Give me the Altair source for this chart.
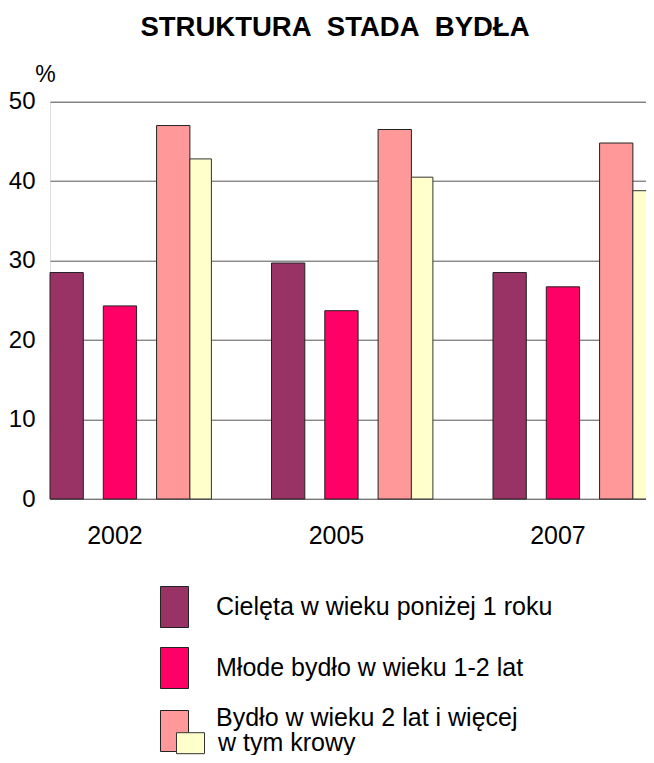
import altair as alt
import pandas as pd

# ---- data ----
years = ["2002", "2005", "2007"]
series = [
    "Cielęta w wieku poniżej 1 roku",
    "Młode bydło w wieku 1-2 lat",
    "Bydło w wieku 2 lat i więcej",
]
cows_label = "w tym krowy"
calves = [28.5, 29.7, 28.5]
young = [24.3, 23.7, 26.7]
adult = [47.0, 46.5, 44.8]
cows = [42.8, 40.5, 38.8]
y_ticks = [0, 10, 20, 30, 40, 50]

colors = ["#993366", "#FF0066", "#FF9999"]
cows_color = "#FFFFCC"
FONT = "Liberation Sans"

main_df = pd.DataFrame({
    "year": years * 3,
    "series": [s for s in series for _ in years],
    "value": calves + young + adult,
})
cows_df = pd.DataFrame({"year": years, "series": cows_label, "value": cows})

x_enc = alt.X(
    "year:N",
    sort=years,
    scale=alt.Scale(paddingInner=0.3684, paddingOuter=0.0296, align=0),
    axis=alt.Axis(
        title=None, labelAngle=0, ticks=False, grid=False, domain=True,
        domainColor="#777", labelFontSize=25, labelFont=FONT, labelColor="black",
        labelPadding=24, labelOffset=-5,
    ),
)
y_enc = alt.Y(
    "value:Q",
    scale=alt.Scale(domain=[0, 50], nice=False),
    axis=alt.Axis(
        values=y_ticks, title="%", titleAngle=0, titleX=-5, titleY=-20,
        titleAlign="center", titleBaseline="alphabetic", titleFontSize=23,
        titleFontWeight="normal", titleFont=FONT, titleColor="black",
        ticks=False, tickSize=0, domain=False, labelFontSize=24, labelFont=FONT,
        labelColor="black", labelPadding=15, gridColor="#555", gridOpacity=1,
    ),
)

tall_rect = "M-0.683,-1 L0.683,-1 L0.683,1 L-0.683,1 Z"
small_rect = "M-1,-0.75 L1,-0.75 L1,0.75 L-1,0.75 Z"

# third legend label sits above its symbol's centre, as in the reference
third_baseline = {"expr": f"datum.label == '{series[2]}' ? 'bottom' : 'middle'"}

main_layer = alt.Chart(main_df).mark_bar(stroke="#222", strokeWidth=1).encode(
    x=x_enc,
    y=y_enc,
    xOffset=alt.XOffset(
        "series:N", sort=series,
        scale=alt.Scale(domain=series, paddingInner=0.375, paddingOuter=0),
    ),
    fill=alt.Fill(
        "series:N", title=None, sort=series,
        scale=alt.Scale(domain=series, range=colors),
        legend=alt.Legend(
            orient="none", legendX=103.5, legendY=484.3, padding=0,
            symbolType=tall_rect, symbolSize=1681, symbolStrokeColor="#222",
            symbolStrokeWidth=1, symbolOpacity=1, labelFontSize=25, labelFont=FONT,
            labelColor="black", labelOffset=20.5, labelLimit=500, rowPadding=15,
            labelBaseline=third_baseline,
        ),
    ),
)

# "w tym krowy" bars: the part visible to the right of the adult-cattle bar
cows_layer = alt.Chart(cows_df).mark_bar(
    width=21.5, xOffset=80.7, stroke="#333", strokeWidth=1
).encode(
    x=x_enc,
    y=y_enc,
    fill=alt.Fill(
        "series:N", title=None,
        scale=alt.Scale(domain=[cows_label], range=[cows_color]),
        legend=alt.Legend(
            orient="none", legendX=126, legendY=627.0, padding=0,
            symbolType=small_rect, symbolSize=784, symbolStrokeColor="#333",
            symbolStrokeWidth=1, symbolOpacity=1, labelFontSize=25, labelFont=FONT,
            labelColor="black", labelOffset=13, labelLimit=500,
        ),
    ),
)

chart = (
    alt.layer(main_layer, cows_layer)
    .resolve_scale(fill="independent")
    .resolve_legend(fill="independent")
    .properties(
        width=596,
        height=397.3,
        autosize=alt.AutoSizeParams(type="none"),
        padding={"left": 42, "top": 93.7, "right": 0, "bottom": 256},
        title=alt.TitleParams(
            "STRUKTURA\u00a0 STADA\u00a0 BYDŁA", fontSize=27.5, fontWeight="bold",
            font=FONT, color="black", anchor="middle", offset=22, dx=-13,
        ),
    )
    .configure_view(stroke=None)
    .configure(background="white")
)

chart.save("out.html", embed_options={"renderer": "svg", "actions": False})
